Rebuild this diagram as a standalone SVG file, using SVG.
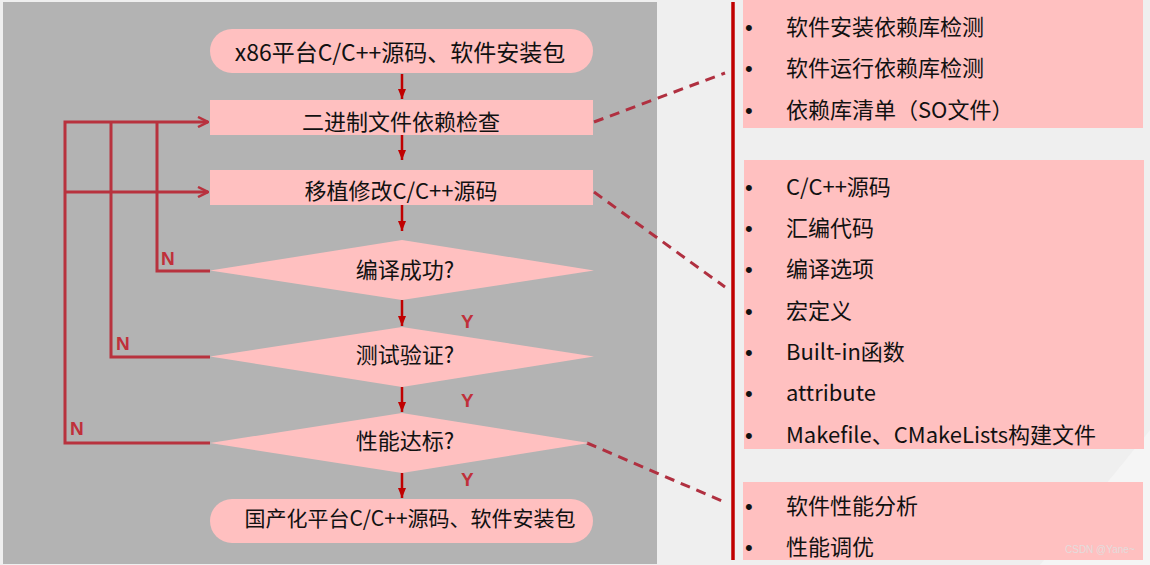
<svg xmlns="http://www.w3.org/2000/svg" width="1150" height="565" viewBox="0 0 1150 565">
<defs>
<style>
.t{font-family:"Noto Sans CJK SC","Liberation Sans",sans-serif;font-size:22px;fill:#111}
.b{font-family:"Liberation Sans",sans-serif;font-size:22px;fill:#111}
.c{text-anchor:middle}
.pink{fill:#FFC0C0}
.lbl{font-family:"Liberation Sans","Noto Sans CJK SC",sans-serif;font-size:19px;font-weight:bold;fill:#C0303A}
.flow{stroke:#C00000;stroke-width:2.5;fill:none;marker-end:url(#ah)}
.loop{stroke:#B8323E;stroke-width:3;fill:none}
.dash{stroke:#B03040;stroke-width:3;stroke-dasharray:10 7;fill:none}
</style>
<marker id="ah" viewBox="0 0 10 8" refX="10" refY="4" markerWidth="10" markerHeight="8" markerUnits="userSpaceOnUse" orient="auto">
<path d="M0,0 L10,4 L0,8 z" fill="#C00000"/>
</marker>
<marker id="oh" viewBox="0 0 12 12" refX="11" refY="6" markerWidth="12" markerHeight="12" markerUnits="userSpaceOnUse" orient="auto">
<path d="M1,1 L11,6 L1,11" fill="none" stroke="#B8323E" stroke-width="2.5"/>
</marker>
</defs>
<rect x="0" y="0" width="1150" height="565" fill="#EFEFEF"/>
<polygon points="1040,565 1150,430 1150,565" fill="#F5F5F5"/>
<rect x="3" y="2" width="654" height="562" fill="#B3B3B3"/>

<g id="connectors">
<line class="flow" x1="402" y1="74" x2="402" y2="99"/>
<line class="flow" x1="402" y1="135" x2="402" y2="160"/>
<line class="flow" x1="402" y1="205" x2="402" y2="231"/>
<line class="flow" x1="402" y1="300" x2="402" y2="326"/>
<line class="flow" x1="402" y1="387" x2="402" y2="412"/>
<line class="flow" x1="402" y1="473" x2="402" y2="498"/>
<path class="loop" d="M210,443 H65 V122 H208" marker-end="url(#oh)"/>
<path class="loop" d="M210,357 H111 V122"/>
<path class="loop" d="M210,271 H157 V122"/>
<path class="loop" d="M65,192 H208" marker-end="url(#oh)"/>
<line class="dash" x1="594" y1="122" x2="725" y2="73"/>
<line class="dash" x1="594" y1="192" x2="725" y2="287"/>
<line class="dash" x1="587" y1="443" x2="722" y2="501"/>
<line x1="733" y1="2" x2="733" y2="560" stroke="#C00000" stroke-width="3.5"/>
<text class="lbl" x="161" y="265">N</text>
<text class="lbl" x="116" y="350">N</text>
<text class="lbl" x="70" y="435">N</text>
<text class="lbl" x="461" y="328">Y</text>
<text class="lbl" x="461" y="407">Y</text>
<text class="lbl" x="461" y="486">Y</text>
</g>

<g id="start">
<rect class="pink" x="210" y="29" width="383" height="44" rx="22"/>
<text class="t c" x="400" y="61" style="font-size:23px">x86平台C/C++源码、软件安装包</text>
</g>
<g id="dep-check">
<rect class="pink" x="210" y="100" width="383" height="35"/>
<text class="t c" x="401" y="130">二进制文件依赖检查</text>
</g>
<g id="port-modify">
<rect class="pink" x="210" y="170" width="383" height="35"/>
<text class="t c" x="401" y="199">移植修改C/C++源码</text>
</g>
<g id="compile-ok">
<polygon class="pink" points="210,270.5 402,240 594,270.5 402,300"/>
<text class="t c" x="405" y="278">编译成功?</text>
</g>
<g id="test-ok">
<polygon class="pink" points="210,356.5 402,327 594,356.5 402,387"/>
<text class="t c" x="405" y="363">测试验证?</text>
</g>
<g id="perf-ok">
<polygon class="pink" points="210,443 402,413 589,443 402,473"/>
<text class="t c" x="405" y="449">性能达标?</text>
</g>
<g id="end">
<rect class="pink" x="210" y="499" width="383" height="44" rx="22"/>
<text class="t c" x="410" y="526" style="font-size:21px">国产化平台C/C++源码、软件安装包</text>
</g>

<g id="list-deps">
<rect class="pink" x="743" y="0" width="400" height="128"/>
<text class="b" x="745" y="35">•</text><text class="t" x="786" y="35">软件安装依赖库检测</text>
<text class="b" x="745" y="76">•</text><text class="t" x="786" y="76">软件运行依赖库检测</text>
<text class="b" x="745" y="118">•</text><text class="t" x="786" y="118">依赖库清单（SO文件）</text>
</g>
<g id="list-port">
<rect class="pink" x="744" y="160" width="400" height="289"/>
<text class="b" x="745" y="195">•</text><text class="t" x="786" y="195">C/C++源码</text>
<text class="b" x="745" y="236">•</text><text class="t" x="786" y="236">汇编代码</text>
<text class="b" x="745" y="277">•</text><text class="t" x="786" y="277">编译选项</text>
<text class="b" x="745" y="319">•</text><text class="t" x="786" y="319">宏定义</text>
<text class="b" x="745" y="360">•</text><text class="t" x="786" y="360">Built-in函数</text>
<text class="b" x="745" y="401">•</text><text class="t" x="786" y="401">attribute</text>
<text class="b" x="745" y="443">•</text><text class="t" x="786" y="443">Makefile、CMakeLists构建文件</text>
</g>
<g id="list-perf">
<rect class="pink" x="743" y="482" width="400" height="78"/>
<text class="b" x="745" y="514">•</text><text class="t" x="786" y="514">软件性能分析</text>
<text class="b" x="745" y="555">•</text><text class="t" x="786" y="555">性能调优</text>
</g>
<text x="1065" y="553" style="font-family:'Liberation Sans',sans-serif;font-size:10px;fill:#E4DCDC">CSDN @Yane~</text>
</svg>
